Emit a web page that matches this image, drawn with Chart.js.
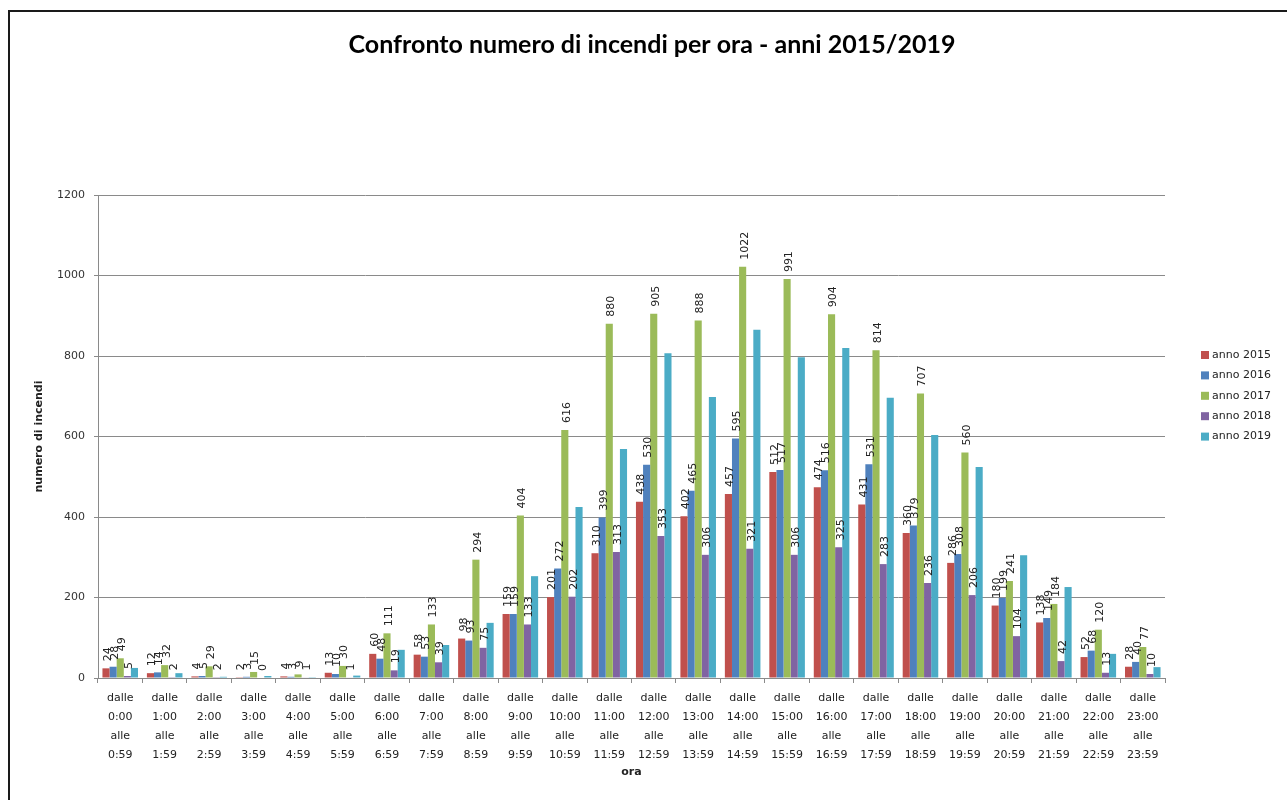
<!DOCTYPE html>
<html>
<head>
<meta charset="utf-8">
<script src="https://cdn.jsdelivr.net/npm/chart.js@4/dist/chart.umd.min.js"></script>
<style>
  html, body { margin: 0; padding: 0; background: #fff; }
  #wrap { position: relative; width: 1287px; height: 800px; overflow: hidden; }
  #frame { position: absolute; left: 8px; top: 10px; width: 1400px; height: 900px;
           border-left: 2px solid #1a1a1a; border-top: 2px solid #1a1a1a; pointer-events: none; }
  canvas { position: absolute; left: 0; top: 0; }
</style>
</head>
<body>
<div id="wrap">
  <canvas id="c" width="1287" height="800"></canvas>
  <div id="frame"></div>
</div>
<script>
// Fasce orarie
const hours = [
  ['dalle','0:00','alle','0:59'], ['dalle','1:00','alle','1:59'], ['dalle','2:00','alle','2:59'],
  ['dalle','3:00','alle','3:59'], ['dalle','4:00','alle','4:59'], ['dalle','5:00','alle','5:59'],
  ['dalle','6:00','alle','6:59'], ['dalle','7:00','alle','7:59'], ['dalle','8:00','alle','8:59'],
  ['dalle','9:00','alle','9:59'], ['dalle','10:00','alle','10:59'], ['dalle','11:00','alle','11:59'],
  ['dalle','12:00','alle','12:59'], ['dalle','13:00','alle','13:59'], ['dalle','14:00','alle','14:59'],
  ['dalle','15:00','alle','15:59'], ['dalle','16:00','alle','16:59'], ['dalle','17:00','alle','17:59'],
  ['dalle','18:00','alle','18:59'], ['dalle','19:00','alle','19:59'], ['dalle','20:00','alle','20:59'],
  ['dalle','21:00','alle','21:59'], ['dalle','22:00','alle','22:59'], ['dalle','23:00','alle','23:59']
];

// Numero di incendi per fascia oraria
const anno2015 = [24, 12, 4, 2, 4, 13, 60, 58, 98, 159, 201, 310, 438, 402, 457, 512, 474, 431, 360, 286, 180, 138, 52, 28];
const anno2016 = [28, 14, 5, 3, 3, 10, 48, 53, 93, 159, 272, 399, 530, 465, 595, 517, 516, 531, 379, 308, 199, 149, 68, 40];
const anno2017 = [49, 32, 29, 15, 9, 30, 111, 133, 294, 404, 616, 880, 905, 888, 1022, 991, 904, 814, 707, 560, 241, 184, 120, 77];
const anno2018 = [5, 2, 2, 0, 1, 1, 19, 39, 75, 133, 202, 313, 353, 306, 321, 306, 325, 283, 236, 206, 104, 42, 13, 10];
const anno2019 = [25, 12, 3, 5, 2, 6, 70, 82, 137, 253, 425, 569, 807, 698, 865, 797, 820, 696, 604, 524, 305, 226, 60, 27];

const yTicks = [0, 200, 400, 600, 800, 1000, 1200];

const chartTitle = 'Confronto numero di incendi per ora - anni 2015/2019';
const seriesNames = ['anno 2015', 'anno 2016', 'anno 2017', 'anno 2018', 'anno 2019'];
const seriesColors = ['#C0504D', '#4F81BD', '#9BBB59', '#8064A2', '#4BACC6'];
const seriesData = [anno2015, anno2016, anno2017, anno2018, anno2019];
const labelledSeries = [0, 1, 2, 3];

const FONT = '"DejaVu Sans", Verdana, sans-serif';
const GRID = '#8a8a8a';

// Titolo centrato sull'intera area del grafico (legenda compresa)
const chartHeading = {
  id: 'chartHeading',
  afterDraw(chart) {
    const ctx = chart.ctx;
    ctx.save();
    ctx.font = 'bold 25px Lato, "Open Sans", sans-serif';
    ctx.fillStyle = '#000';
    ctx.textAlign = 'center';
    ctx.textBaseline = 'middle';
    ctx.fillText(chartTitle, 652, 45);
    ctx.restore();
  }
};

// Etichette verticali sopra le barre
const valueLabels = {
  id: 'valueLabels',
  afterDatasetsDraw(chart) {
    const ctx = chart.ctx;
    ctx.save();
    ctx.font = '11px ' + FONT;
    ctx.fillStyle = '#222';
    ctx.textAlign = 'left';
    ctx.textBaseline = 'middle';
    labelledSeries.forEach(di => {
      const meta = chart.getDatasetMeta(di);
      meta.data.forEach((bar, i) => {
        const v = chart.data.datasets[di].data[i];
        ctx.save();
        ctx.translate(bar.x + 2, bar.y - 7);
        ctx.rotate(-Math.PI / 2);
        ctx.fillText(String(v), 0, 0);
        ctx.restore();
      });
    });
    ctx.restore();
  }
};

// Legenda a destra
const sideLegend = {
  id: 'sideLegend',
  afterDraw(chart) {
    const ctx = chart.ctx;
    ctx.save();
    ctx.font = '11px ' + FONT;
    ctx.textAlign = 'left';
    ctx.textBaseline = 'middle';
    const x0 = chart.chartArea.right + 36;
    const y0 = 355;
    chart.data.datasets.forEach((ds, i) => {
      const y = y0 + i * 20.4;
      ctx.fillStyle = ds.backgroundColor;
      ctx.fillRect(x0, y - 4, 8, 8);
      ctx.fillStyle = '#222';
      ctx.fillText(ds.label, x0 + 11, y);
    });
    ctx.restore();
  }
};

new Chart(document.getElementById('c'), {
  type: 'bar',
  data: {
    labels: hours,
    datasets: seriesData.map((d, i) => ({
      label: seriesNames[i],
      data: d,
      backgroundColor: seriesColors[i],
      borderWidth: 0,
      categoryPercentage: 0.8,
      barPercentage: 1.0
    }))
  },
  options: {
    responsive: false,
    animation: false,
    layout: { padding: { left: 0, right: 122, top: 195, bottom: 0 } },
    plugins: {
      legend: { display: false },
      tooltip: { enabled: false },
      title: { display: false }
    },
    scales: {
      x: {
        offset: true,
        grid: { display: true, drawOnChartArea: false, drawTicks: true, tickLength: 5, offset: true, color: GRID },
        border: { display: true, color: GRID, width: 1 },
        ticks: {
          color: '#222',
          font: { family: FONT, size: 11, lineHeight: 1.73 },
          padding: 6,
          maxRotation: 0,
          autoSkip: false
        },
        title: {
          display: true,
          text: 'ora',
          color: '#222',
          font: { family: FONT, size: 11, weight: 'bold', lineHeight: 1.2 },
          padding: { top: 2, bottom: 21 }
        },
        afterFit(scale) { scale.height = 122; }
      },
      y: {
        min: 0,
        max: 1200,
        afterBuildTicks(scale) { scale.ticks = yTicks.map(v => ({ value: v })); },
        grid: { color: GRID, tickLength: 4, drawTicks: true },
        border: { display: true, color: GRID, width: 1 },
        ticks: {
          color: '#333',
          font: { family: FONT, size: 11 },
          padding: 9,
          callback: (v) => String(v)
        },
        title: {
          display: true,
          text: 'numero di incendi',
          color: '#222',
          font: { family: FONT, size: 11, weight: 'bold', lineHeight: 1.2 },
          padding: { top: 33, bottom: 0 }
        },
        afterFit(scale) { scale.width = 98; }
      }
    }
  },
  plugins: [chartHeading, valueLabels, sideLegend]
});
</script>
</body>
</html>
